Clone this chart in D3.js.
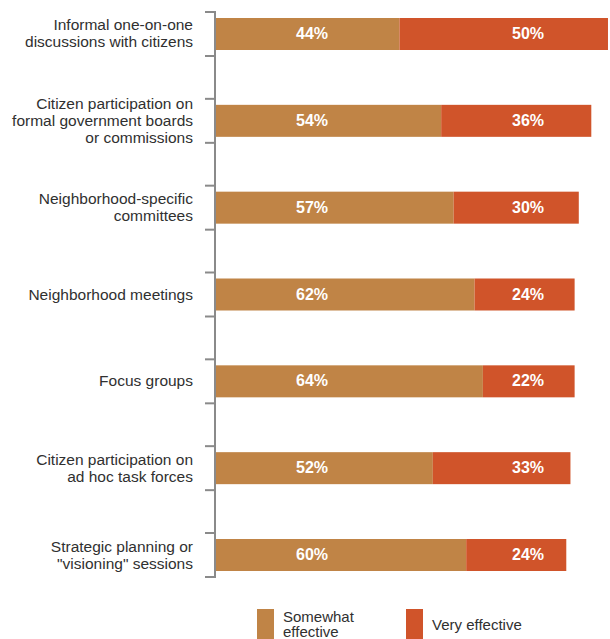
<!DOCTYPE html>
<html>
<head>
<meta charset="utf-8">
<script src="https://cdn.jsdelivr.net/npm/d3@7"></script>
<style>
  html, body { margin: 0; padding: 0; background: #ffffff; }
  svg { display: block; }
</style>
</head>
<body>
<script>
// ---- Data ----
const categories = [
  "Informal one-on-one\ndiscussions with citizens",
  "Citizen participation on\nformal government boards\nor commissions",
  "Neighborhood-specific\ncommittees",
  "Neighborhood meetings",
  "Focus groups",
  "Citizen participation on\nad hoc task forces",
  "Strategic planning or\n\"visioning\" sessions"
];
const somewhatEffective = [44, 54, 57, 62, 64, 52, 60];
const veryEffective     = [50, 36, 30, 24, 22, 33, 24];
const seriesNames = ["Somewhat\neffective", "Very effective"];
const seriesColors = ["#C08446", "#D0542A"];

// ---- Layout ----
const W = 610, H = 639;
const svg = d3.select("body").append("svg").attr("width", W).attr("height", H);

const x = d3.scaleLinear().domain([0, 100]).range([216, 633]);
const y = d3.scaleBand().domain(d3.range(categories.length)).range([18, 571]).paddingInner(0.6315);
const bw = y.bandwidth();
const labelFont = "'Liberation Sans', Arial, sans-serif";
const valueFont = "'Liberation Sans Narrow', 'Liberation Sans', Arial, sans-serif";
const axisColor = "#8a8a8a";
const textColor = "#303030";
const labelCols = [312, 528];

const rows = categories.map((c, i) => ({ i, c, a: somewhatEffective[i], b: veryEffective[i] }));

// bars
const g = svg.append("g");
g.selectAll("rect.a").data(rows).join("rect")
  .attr("x", d => x(0)).attr("y", d => y(d.i))
  .attr("width", d => x(d.a) - x(0)).attr("height", bw)
  .attr("fill", seriesColors[0]);
g.selectAll("rect.b").data(rows).join("rect")
  .attr("x", d => x(d.a)).attr("y", d => y(d.i))
  .attr("width", d => x(d.a + d.b) - x(d.a)).attr("height", bw)
  .attr("fill", seriesColors[1]);

// value labels
g.selectAll("text.va").data(rows).join("text")
  .attr("x", labelCols[0]).attr("y", d => y(d.i) + bw / 2 + 5)
  .attr("text-anchor", "middle").attr("fill", "#fff")
  .style("font-family", valueFont).style("font-weight", "bold").style("font-size", "16px")
  .text(d => d.a + "%");
g.selectAll("text.vb").data(rows).join("text")
  .attr("x", labelCols[1]).attr("y", d => y(d.i) + bw / 2 + 5)
  .attr("text-anchor", "middle").attr("fill", "#fff")
  .style("font-family", valueFont).style("font-weight", "bold").style("font-size", "16px")
  .text(d => d.b + "%");

// axis line with bracket ticks
const axX = 215;
const gap = 6;
svg.append("line")
  .attr("x1", axX).attr("x2", axX)
  .attr("y1", y(0) - gap).attr("y2", y(categories.length - 1) + bw + gap)
  .attr("stroke", axisColor).attr("stroke-width", 2);
rows.forEach(d => {
  [y(d.i) - gap, y(d.i) + bw + gap].forEach(ty => {
    svg.append("line").attr("x1", axX - 10).attr("x2", axX + 1)
      .attr("y1", ty).attr("y2", ty)
      .attr("stroke", axisColor).attr("stroke-width", 2);
  });
});

// category labels
const lh = 17;
rows.forEach(d => {
  const lines = d.c.split("\n");
  const cy = y(d.i) + bw / 2;
  const t = svg.append("text")
    .attr("text-anchor", "end").attr("fill", textColor)
    .style("font-family", labelFont).style("font-size", "15.5px");
  lines.forEach((ln, k) => {
    t.append("tspan").attr("x", 193)
      .attr("y", cy + (k - (lines.length - 1) / 2) * lh + 5)
      .text(ln);
  });
});

// legend
const legendX = [257, 406];
seriesNames.forEach((name, k) => {
  svg.append("rect").attr("x", legendX[k]).attr("y", 609)
    .attr("width", 17).attr("height", 32).attr("fill", seriesColors[k]);
  const lines = name.split("\n");
  lines.forEach((ln, j) => {
    svg.append("text").attr("fill", textColor)
      .style("font-family", labelFont).style("font-size", "15px")
      .attr("x", legendX[k] + 26)
      .attr("y", 629.5 + (j - (lines.length - 1) / 2) * 15.5)
      .text(ln);
  });
});
</script>
</body>
</html>
